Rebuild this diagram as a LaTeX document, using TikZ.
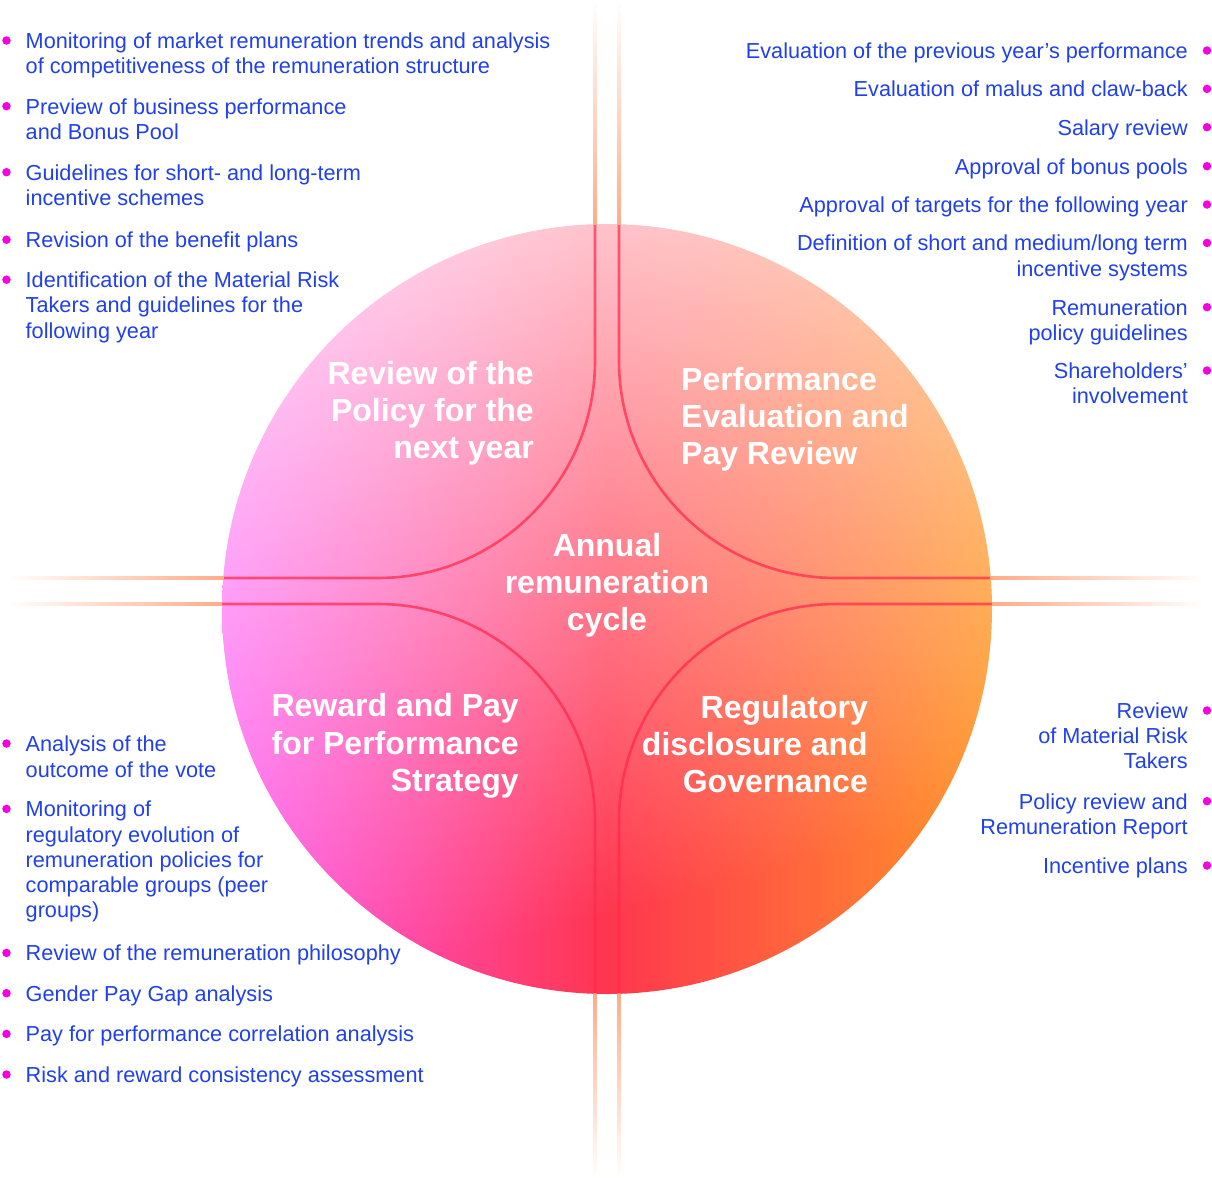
\documentclass[tikz,border=0pt]{standalone}
\usepackage{fontspec}
\setmainfont{Liberation Sans}

\definecolor{itemblue}{RGB}{32,64,235}
\definecolor{dotpink}{RGB}{245,0,225}
\definecolor{peach}{RGB}{255,172,135}
\definecolor{linered}{RGB}{255,40,75}
\definecolor{discbase}{RGB}{255,160,240}

\newcommand{\itemfont}{\fontsize{21.7bp}{25.3bp}\selectfont}
\newcommand{\titlefont}{\fontsize{32bp}{37.3bp}\selectfont\bfseries}
\newcommand{\ListL}[1]{\begin{tabular}[t]{@{}l@{}}#1\end{tabular}}
\newcommand{\ListR}[1]{\begin{tabular}[t]{@{}r@{}}#1\end{tabular}}
\newcommand{\ListC}[1]{\begin{tabular}[t]{@{}c@{}}#1\end{tabular}}

\pgfdeclarefunctionalshading{remgrad}{\pgfpointorigin}{\pgfpoint{100bp}{100bp}}{}{
  75 exch sub 50 div
  exch 25 sub 50 div
  dup 0 lt {pop 0} if dup 1 gt {pop 1} if
  exch dup 0 lt {pop 0} if dup 1 gt {pop 1} if exch
  2 copy
  0.2 mul neg 0.8 add exch 0.78 mul sub
  dup 0 lt {pop 0} if
  3 1 roll
  dup 0.5 le
  { 2 mul dup -0.13 mul 0.34 add exch -0.64 mul 0.95 add }
  { 2 mul 1 sub dup 0.38 mul 0.21 add exch -0.15 mul 0.31 add }
  ifelse
  3 -1 roll pop
  3 -1 roll
  exch 1 index
  dup 1 exch sub 3 -1 roll mul add
  3 1 roll
  dup 1 exch sub 3 -1 roll mul add
  exch 1 3 1 roll
}

\tikzset{
  itemL/.style={inner sep=0pt, text=itemblue, font=\itemfont, anchor=base west},
  itemR/.style={inner sep=0pt, text=itemblue, font=\itemfont, anchor=base east},
  titletext/.style={inner sep=0pt, text=white, font=\titlefont},
  dot/.style={circle, fill=dotpink, inner sep=0pt, minimum size=8.5bp},
  innerline/.style={draw=linered, draw opacity=0.72, line width=2.6bp},
}

\begin{document}
\begin{tikzpicture}[x=1bp,y=-1bp]
\useasboundingbox (0,0) rectangle (1212,1178);

% main disc
\fill[discbase] (607,609) circle[radius=384.5];
\shade[shading=remgrad] (607,609) circle[radius=385];

% inner quadrant borders
\begin{scope}
  \clip (607,609) circle[radius=385];
  \draw[innerline] (595,200) -- (595,361) arc[start angle=0,end angle=90,radius=217] -- (200,578);
  \draw[innerline] (619,200) -- (619,361) arc[start angle=180,end angle=90,radius=217] -- (1010,578);
  \draw[innerline] (200,604) -- (378,604) arc[start angle=270,end angle=360,radius=217] -- (595,1010);
  \draw[innerline] (1010,604) -- (836,604) arc[start angle=270,end angle=180,radius=217] -- (619,1010);
\end{scope}

% faded outer extensions
\shade[top color=white, middle color=peach!70, bottom color=peach] (593.7,0) rectangle (596.3,224.5);
\shade[top color=white, middle color=peach!70, bottom color=peach] (617.7,0) rectangle (620.3,224.5);
\shade[top color=peach, middle color=peach!70, bottom color=white] (593.7,993.6) rectangle (596.3,1178);
\shade[top color=peach, middle color=peach!70, bottom color=white] (617.7,993.6) rectangle (620.3,1178);
\shade[left color=white, middle color=peach!70, right color=peach] (8,576.7) rectangle (223.4,579.3);
\shade[left color=white, middle color=peach!70, right color=peach] (8,602.7) rectangle (222.2,605.3);
\shade[left color=peach, middle color=peach!70, right color=white] (990.6,576.7) rectangle (1204,579.3);
\shade[left color=peach, middle color=peach!70, right color=white] (991.8,602.7) rectangle (1204,605.3);

% titles
\node[titletext, anchor=base east] (t1) at (534,384.3) {\ListR{Review of the\\Policy for the\\next year}};
\node[titletext, anchor=base west] (t2) at (681,390) {\ListL{Performance\\Evaluation and\\Pay Review}};
\node[titletext, anchor=base] (t3) at (607,556) {\ListC{Annual\\remuneration\\cycle}};
\node[titletext, anchor=base east] (t4) at (519,716.7) {\ListR{Reward and Pay\\for Performance\\Strategy}};
\node[titletext, anchor=base east] (t5) at (868,718) {\ListR{Regulatory\\disclosure and\\Governance}};

% top-left list
\node[itemL] (tl1) at (25.5,48.3) {\ListL{Monitoring of market remuneration trends and analysis\\of competitiveness of the remuneration structure}};
\node[itemL] (tl2) at (25.5,114) {\ListL{Preview of business performance\\and Bonus Pool}};
\node[itemL] (tl3) at (25.5,180) {\ListL{Guidelines for short- and long-term\\incentive schemes}};
\node[itemL] (tl4) at (25.5,247.5) {Revision of the benefit plans};
\node[itemL] (tl5) at (25.5,287.5) {\ListL{Identification of the Material Risk\\Takers and guidelines for the\\following year}};
\node[dot] (dtl1) at (6.5,40.5) {};
\node[dot] (dtl2) at (6.5,106.2) {};
\node[dot] (dtl3) at (6.5,172.2) {};
\node[dot] (dtl4) at (6.5,239.7) {};
\node[dot] (dtl5) at (6.5,279.7) {};

% top-right list
\node[itemR] (tr1) at (1188,58.3) {Evaluation of the previous year’s performance};
\node[itemR] (tr2) at (1188,96.7) {Evaluation of malus and claw-back};
\node[itemR] (tr3) at (1188,135) {Salary review};
\node[itemR] (tr4) at (1188,174) {Approval of bonus pools};
\node[itemR] (tr5) at (1188,212.3) {Approval of targets for the following year};
\node[itemR] (tr6) at (1188,250.7) {\ListR{Definition of short and medium/long term\\incentive systems}};
\node[itemR] (tr7) at (1188,315) {\ListR{Remuneration\\policy guidelines}};
\node[itemR] (tr8) at (1188,378.3) {\ListR{Shareholders’\\involvement}};
\node[dot] (dtr1) at (1207,50.5) {};
\node[dot] (dtr2) at (1207,88.9) {};
\node[dot] (dtr3) at (1207,127.2) {};
\node[dot] (dtr4) at (1207,166.2) {};
\node[dot] (dtr5) at (1207,204.5) {};
\node[dot] (dtr6) at (1207,242.9) {};
\node[dot] (dtr7) at (1207,307.2) {};
\node[dot] (dtr8) at (1207,370.5) {};

% bottom-left list
\node[itemL] (bl1) at (25.5,751.7) {\ListL{Analysis of the\\outcome of the vote}};
\node[itemL] (bl2) at (25.5,816.7) {\ListL{Monitoring of\\regulatory evolution of\\remuneration policies for\\comparable groups (peer\\groups)}};
\node[itemL] (bl3) at (25.5,960.7) {Review of the remuneration philosophy};
\node[itemL] (bl4) at (25.5,1001) {Gender Pay Gap analysis};
\node[itemL] (bl5) at (25.5,1041.7) {Pay for performance correlation analysis};
\node[itemL] (bl6) at (25.5,1082.3) {Risk and reward consistency assessment};
\node[dot] (dbl1) at (6.5,743.5) {};
\node[dot] (dbl2) at (6.5,808.9) {};
\node[dot] (dbl3) at (6.5,952.9) {};
\node[dot] (dbl4) at (6.5,993.2) {};
\node[dot] (dbl5) at (6.5,1033.9) {};
\node[dot] (dbl6) at (6.5,1074.5) {};

% bottom-right list
\node[itemR] (br1) at (1188,718.3) {\ListR{Review\\of Material Risk\\Takers}};
\node[itemR] (br2) at (1188,809) {\ListR{Policy review and\\Remuneration Report}};
\node[itemR] (br3) at (1188,873.3) {Incentive plans};
\node[dot] (dbr1) at (1207,710.5) {};
\node[dot] (dbr2) at (1207,801.2) {};
\node[dot] (dbr3) at (1207,865.5) {};
\end{tikzpicture}
\end{document}
